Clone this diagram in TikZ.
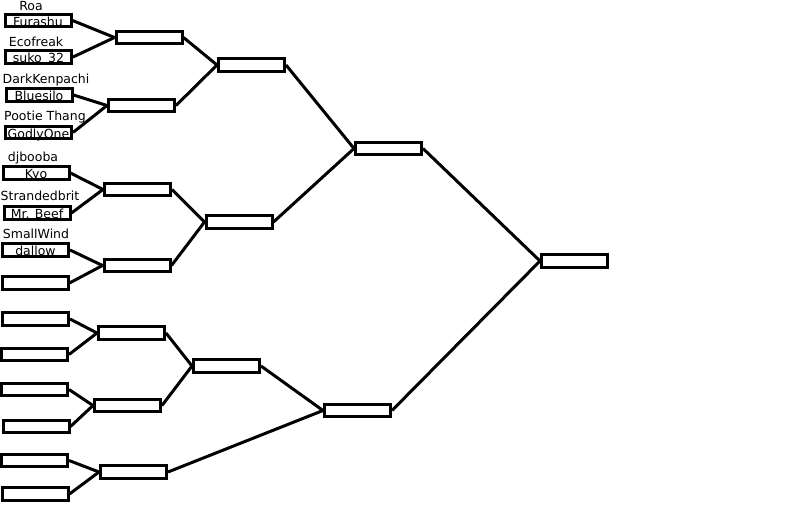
\documentclass[tikz,border=0pt]{standalone}
\usepackage{fontspec}
\setmainfont{DejaVu Sans}
\usepackage{tikz}
\usetikzlibrary{positioning}
\tikzset{
  casier/.style={rectangle, draw=black, line width=3pt, fill=white, inner sep=0pt,
                 minimum width=66pt, minimum height=12.5pt, text height=12pt, text depth=0.5pt,
                 font=\fontsize{12.5}{13}\selectfont},
  nom/.style={inner sep=0pt, font=\fontsize{12.5}{13}\selectfont},
  lien/.style={line width=3pt, draw=black},
}

\begin{document}
\begin{tikzpicture}[x=1pt, y=-1pt]
    \useasboundingbox (0,0) rectangle (800,514);
    \node[casier] (f1) at (38,20.5) {Furashu};
    \node[casier] (f2) at (38.5,57) {suko\_32};
    \node[casier] (f3) at (39,95) {Bluesilo};
    \node[casier] (f4) at (38.5,132.5) {GodlyOne};
    \node[casier] (f5) at (36,173) {Kyo};
    \node[casier] (f6) at (37,213) {Mr. Beef};
    \node[casier] (f7) at (35.5,250) {dallow};
    \node[casier] (f8) at (35,283) {};
    \node[casier] (f9) at (35.5,319) {};
    \node[casier] (f10) at (34.5,354.5) {};
    \node[casier] (f11) at (34.5,389.5) {};
    \node[casier] (f12) at (36,426.5) {};
    \node[casier] (f13) at (34.5,460.5) {};
    \node[casier] (f14) at (35,494) {};
    \node[nom] (n1) at (31,6) {Roa};
    \node[nom] (n2) at (36,42) {Ecofreak};
    \node[nom] (n3) at (46,80) {DarkKenpachi};
    \node[nom] (n4) at (45,117) {Pootie Thang};
    \node[nom] (n5) at (33,158) {djbooba};
    \node[nom] (n6) at (40,196) {Strandedbrit};
    \node[nom] (n7) at (36,234) {SmallWind};
    \node[casier] (a) at (149,37.5) {};
    \node[casier] (b) at (141.5,105.5) {};
    \node[casier] (c) at (137.5,189.5) {};
    \node[casier] (d) at (137,265.5) {};
    \node[casier] (e) at (131.5,333) {};
    \node[casier] (f) at (127.5,405.5) {};
    \node[casier] (g) at (133.5,472) {};
    \node[casier] (h) at (251.5,65) {};
    \node[casier] (i) at (239,222) {};
    \node[casier] (j) at (226.5,366) {};
    \node[casier] (k) at (357.5,410.5) {};
    \node[casier] (l) at (388.5,148.5) {};
    \node[casier] (m) at (574.5,261) {};
    \foreach \s/\t in {f1/a,f2/a,f3/b,f4/b,f5/c,f6/c,f7/d,f8/d,f9/e,f10/e,f11/f,f12/f,f13/g,f14/g,
                       a/h,b/h,c/i,d/i,e/j,f/j,j/k,g/k,h/l,i/l,l/m,k/m}
      \draw[lien] (\s.east) -- (\t.west);
\end{tikzpicture}
\end{document}
